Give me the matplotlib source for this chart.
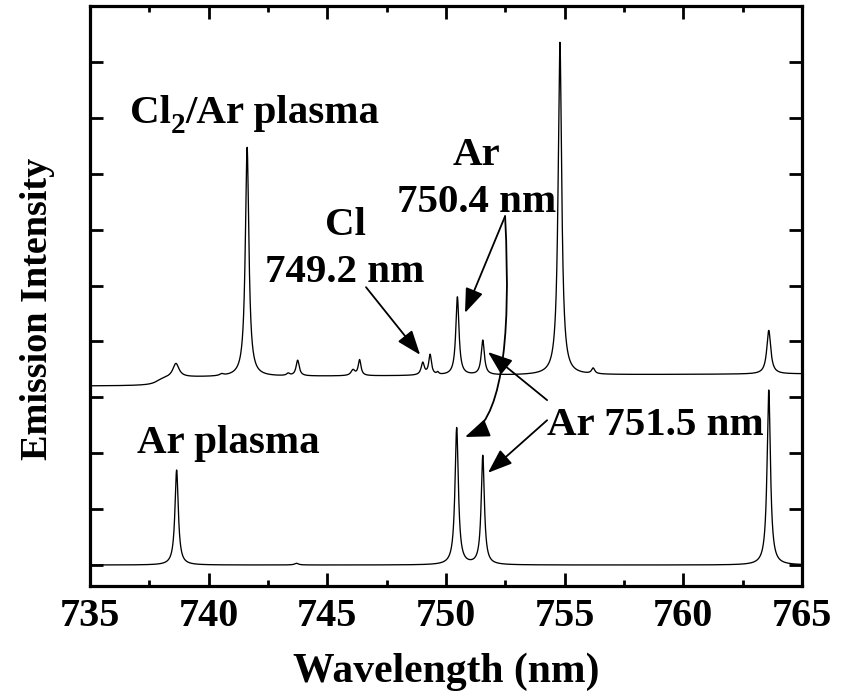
import numpy as np
import matplotlib
matplotlib.use("Agg")
import matplotlib.pyplot as plt
from matplotlib.ticker import MultipleLocator, NullFormatter

plt.rcParams['font.family'] = ['Liberation Serif', 'DejaVu Serif']
plt.rcParams['font.weight'] = 'bold'

# ---------------- data ----------------
# Ar plasma spectrum (lower trace): line centres, heights, half widths
ar_peak_nm = [738.65, 743.70, 750.45, 751.55, 763.60]
ar_peak_height = [1.70, 0.03, 2.45, 1.95, 3.13]
ar_peak_hwhm = [0.085, 0.10, 0.085, 0.080, 0.085]
ar_baseline = 0.0

# Cl2/Ar plasma spectrum (upper trace, offset)
cl_peak_nm = [738.62, 740.55, 741.62, 743.35, 743.75, 746.08, 746.36,
              749.02, 749.33, 749.65, 750.48, 751.55, 754.80, 756.20, 763.60]
cl_peak_height = [0.25, 0.03, 4.10, 0.04, 0.28, 0.10, 0.28,
                  0.22, 0.36, 0.04, 1.40, 0.62, 5.95, 0.10, 0.78]
cl_peak_hwhm = [0.16, 0.10, 0.09, 0.08, 0.08, 0.10, 0.07,
                0.08, 0.07, 0.05, 0.08, 0.08, 0.09, 0.08, 0.10]
cl_baseline_start = 3.20    # level before the step near 738 nm
cl_baseline_level = 3.37    # level after the step
cl_baseline_end = 3.42      # level at 765 nm
cl_step_nm = 737.85

xticks_major = [735, 740, 745, 750, 755, 760, 765]
yticks = list(range(0, 10))

# ---------------- build traces ----------------
wl = np.linspace(735, 765, 9001)


def spectrum(base, centres, heights, widths):
    y = np.array(base, dtype=float) * np.ones_like(wl)
    for c, h, g in zip(centres, heights, widths):
        y = y + h * g ** 2 / ((wl - c) ** 2 + g ** 2)
    return y


ar_trace = spectrum(ar_baseline, ar_peak_nm, ar_peak_height, ar_peak_hwhm)

step = 0.5 + np.arctan((wl - cl_step_nm) / 0.25) / np.pi
cl_base = cl_baseline_start + (cl_baseline_level - cl_baseline_start) * step \
    + (cl_baseline_end - cl_baseline_level) * np.clip((wl - 740) / 25, 0, 1)
cl_trace = spectrum(0.0, cl_peak_nm, cl_peak_height, cl_peak_hwhm) + cl_base

# ---------------- figure ----------------
fig = plt.figure(figsize=(8.55, 6.97), dpi=100)
ax = fig.add_axes([90 / 855, 1 - 586 / 697, 712 / 855, 580 / 697])

ax.plot(wl, cl_trace, color='black', lw=0.95)
ax.plot(wl, ar_trace, color='black', lw=0.95)

ax.set_xlim(735, 765)
ax.set_ylim(-0.375, 10.0)

ax.xaxis.set_major_locator(plt.FixedLocator(xticks_major))
ax.xaxis.set_minor_locator(MultipleLocator(2.5))
ax.set_yticks(yticks)
ax.yaxis.set_major_formatter(NullFormatter())

ax.tick_params(axis='both', which='major', direction='in', length=9.5,
               width=2.0, top=True, right=True, labelsize=29, pad=9)
ax.tick_params(axis='x', which='minor', direction='in', length=4.5,
               width=2.0, top=True)
for lab in ax.get_xticklabels():
    lab.set_fontweight('bold')
for s in ax.spines.values():
    s.set_linewidth(2.3)

ax.set_xlabel('Wavelength (nm)', fontsize=30, fontweight='bold')
ax.xaxis.set_label_coords(0.5, -0.1155)
ax.xaxis.label.set_va('top')
ax.set_ylabel('Emission Intensity', fontsize=27.5, fontweight='bold')
ax.yaxis.set_label_coords(-0.049, 0.478)

tfs = 29.5
# "Cl2/Ar plasma" built from pieces so the subscript sits low like the original
t_cl = ax.text(736.69, 7.91, 'Cl', fontsize=tfs, fontweight='bold',
               ha='left', va='baseline')
fig.canvas.draw()
bb = t_cl.get_window_extent()
inv = ax.transData.inverted()
base_disp = ax.transData.transform((736.69, 7.91))
x_sub, y_sub = inv.transform((bb.x1, base_disp[1] - 10))
t_two = ax.text(x_sub, y_sub, '2', fontsize=21, fontweight='bold',
                ha='left', va='baseline')
fig.canvas.draw()
bb2 = t_two.get_window_extent()
x_rest, _ = inv.transform((bb2.x1, bb2.y0))
ax.text(x_rest, 7.91, '/Ar plasma', fontsize=tfs, fontweight='bold',
        ha='left', va='baseline')

ax.text(736.98, 2.01, 'Ar plasma', fontsize=tfs, fontweight='bold',
        ha='left', va='baseline')
ax.text(745.75, 5.90, 'Cl', fontsize=tfs, fontweight='bold',
        ha='center', va='baseline')
ax.text(745.75, 5.06, '749.2 nm', fontsize=tfs, fontweight='bold',
        ha='center', va='baseline')
ax.text(751.30, 7.16, 'Ar', fontsize=tfs, fontweight='bold',
        ha='center', va='baseline')
ax.text(751.29, 6.31, '750.4 nm', fontsize=tfs, fontweight='bold',
        ha='center', va='baseline')
ax.text(754.26, 2.33, 'Ar 751.5 nm', fontsize=tfs, fontweight='bold',
        ha='left', va='baseline')

aprops = dict(arrowstyle='-|>,head_length=0.75,head_width=0.28',
              color='black', lw=1.3, shrinkA=0, shrinkB=0,
              mutation_scale=20)

def arrow(start, tip, **kw):
    p = dict(aprops)
    p.update(kw)
    ax.annotate('', xy=tip, xytext=start, arrowprops=p)

arrow((746.63, 4.97), (748.91, 3.76))
arrow((752.49, 6.24), (750.80, 4.51))
arrow((752.49, 6.24), (750.80, 2.29),
      connectionstyle='angle3,angleA=-87,angleB=22')
arrow((754.26, 2.95), (751.77, 3.81))
arrow((754.26, 2.59), (751.77, 1.65))

fig.savefig('out.png', dpi=100)
